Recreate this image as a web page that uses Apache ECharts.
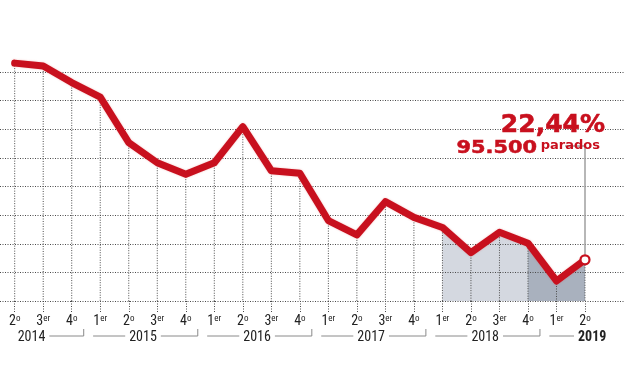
<!DOCTYPE html>
<html><head><meta charset="utf-8">
<script src="https://cdn.jsdelivr.net/npm/echarts@6/dist/echarts.min.js"></script>
<style>html,body{margin:0;padding:0;background:#fff}#c{width:624px;height:385px}</style>
</head><body><div id="c"></div>
<script>
// ---- data ----
const quarters = ['2º','3er','4º','1er','2º','3er','4º','1er','2º','3er','4º','1er','2º','3er','4º','1er','2º','3er','4º','1er','2º'];
const quarterYears = ['2014','2014','2014','2015','2015','2015','2015','2016','2016','2016','2016','2017','2017','2017','2017','2018','2018','2018','2018','2019','2019'];
const paroRate = [29.31, 29.21, 28.63, 28.12, 26.53, 25.83, 25.43, 25.83, 27.09, 25.55, 25.46, 23.81, 23.31, 24.47, 23.92, 23.57, 22.69, 23.40, 23.02, 21.70, 22.44];
const yMin = 21, yMax = 29, yStep = 1;
const lightShade = [15, 18];   // 1er 2018 .. 4º 2018
const darkShade = [18, 20];    // 4º 2018 .. 2º 2019
const headlineRate = '22,44%';
const headlineParados = '95.500';
const headlineWord = 'parados';

// ---- styles ----
const RED = '#c8101e';
const DOT = '#4a4a4a';
const DASH = [1, 1.5];
const LABEL_FONT = '"Liberation Sans Narrow","Roboto Condensed","Liberation Sans",sans-serif';

const yearGroups = [];
quarterYears.forEach((y, i) => {
  const g = yearGroups[yearGroups.length - 1];
  if (g && g.year === y) g.end = i; else yearGroups.push({year: y, start: i, end: i});
});

function shade(range) {
  return paroRate.map((v, i) => (i >= range[0] && i <= range[1]) ? v : null);
}

const chart = echarts.init(document.getElementById('c'), null, {renderer: 'canvas'});

const option = {
  animation: false,
  backgroundColor: '#fff',
  grid: [
    {left: 14.7, right: 39, top: 72, bottom: 84},
    {left: 0, right: 0, top: 72, bottom: 84}
  ],
  xAxis: [
    {
      type: 'category', gridIndex: 0, data: quarters, boundaryGap: false,
      axisLine: {show: false},
      axisTick: {show: true, length: 11, interval: 0, lineStyle: {color: DOT, type: DASH, width: 1}},
      axisLabel: {
        interval: 0, margin: 13, color: '#222',
        formatter: v => '{n|' + v[0] + '}{s|' + v.slice(1).replace('º', 'o') + '}',
        rich: {
          n: {fontSize: 14, fontFamily: LABEL_FONT, color: '#222', lineHeight: 14},
          s: {fontSize: 9, fontFamily: LABEL_FONT, color: '#222', lineHeight: 9, verticalAlign: 'top'}
        }
      },
      splitLine: {show: false}
    },
    {type: 'value', gridIndex: 1, min: 0, max: 1, show: false}
  ],
  yAxis: [
    {type: 'value', gridIndex: 0, min: yMin, max: yMax, interval: yStep, show: false},
    {
      type: 'value', gridIndex: 1, min: yMin, max: yMax, interval: yStep, z: 1,
      axisLine: {show: false}, axisTick: {show: false}, axisLabel: {show: false},
      splitLine: {show: true, lineStyle: {color: DOT, type: DASH, width: 1}}
    }
  ],
  series: [
    {
      type: 'line', xAxisIndex: 0, yAxisIndex: 0, data: shade(lightShade), z: 0,
      symbol: 'none', lineStyle: {width: 0}, areaStyle: {color: '#d4d8e0', opacity: 1, origin: 'start'}, connectNulls: false
    },
    {
      type: 'line', xAxisIndex: 0, yAxisIndex: 0, data: shade(darkShade), z: 0,
      symbol: 'none', lineStyle: {width: 0}, areaStyle: {color: '#a9b1be', opacity: 1, origin: 'start'}, connectNulls: false
    },
    {
      type: 'custom', xAxisIndex: 0, yAxisIndex: 0, z: 2, clip: false,
      data: paroRate.map((v, i) => [i, v]),
      renderItem: (params, api) => {
        const p = api.coord([api.value(0), api.value(1)]);
        const b = api.coord([api.value(0), yMin]);
        return {type: 'line', shape: {x1: p[0], y1: p[1], x2: b[0], y2: b[1]},
          style: {stroke: DOT, lineWidth: 1, lineDash: DASH}};
      }
    },
    {
      type: 'line', xAxisIndex: 0, yAxisIndex: 0, z: 3, clip: false,
      data: paroRate.map((v, i) => i === paroRate.length - 1
        ? {value: v, symbol: 'circle', symbolSize: 9, itemStyle: {color: '#fff', borderColor: RED, borderWidth: 2.2}}
        : v),
      symbol: 'none', showSymbol: true,
      lineStyle: {color: RED, width: 7, join: 'round', cap: 'round', shadowColor: 'rgba(220,60,60,0.35)', shadowBlur: 2},
      itemStyle: {color: RED}
    },
    {
      type: 'custom', xAxisIndex: 0, yAxisIndex: 0, z: 4, clip: false,
      data: yearGroups.map(g => [g.start, g.end]),
      renderItem: (params, api) => {
        const g = yearGroups[params.dataIndex];
        const s = api.coord([g.start, yMin]);
        const e = api.coord([g.end, yMin]);
        const step = api.coord([1, yMin])[0] - api.coord([0, yMin])[0];
        const y = s[1] + 35;
        const isFirst = params.dataIndex === 0;
        const isLast = params.dataIndex === yearGroups.length - 1;
        const lineStart = isFirst ? s[0] : s[0] - 0.25 * step;
        const lineEnd = isLast ? e[0] : e[0] + 0.42 * step;
        const children = [
          {type: 'line', shape: {x1: lineStart, y1: y, x2: lineEnd, y2: y}, style: {stroke: '#8a8a8a', lineWidth: 1}}
        ];
        if (!isLast) children.push({type: 'line', shape: {x1: lineEnd, y1: y - 7, x2: lineEnd, y2: y}, style: {stroke: '#8a8a8a', lineWidth: 1}});
        let tx, align;
        if (isFirst) { tx = s[0] - 1; align = 'left'; }
        else if (isLast) { tx = e[0] - 11; align = 'left'; }
        else { tx = (s[0] + e[0]) / 2; align = 'center'; }
        children.push({
          type: 'text', x: tx, y: y + 1,
          style: {
            text: g.year, align: align, verticalAlign: 'middle',
            font: (isLast ? 'bold ' : '') + '14px ' + LABEL_FONT, fill: '#222',
            backgroundColor: '#fff', padding: [0, 4, 0, 4]
          }
        });
        return {type: 'group', children: children};
      }
    }
  ]
};
chart.setOption(option);

const lastIdx = paroRate.length - 1;
const pt = chart.convertToPixel({xAxisIndex: 0, yAxisIndex: 0}, [lastIdx, paroRate[lastIdx]]);
chart.setOption({
  graphic: [
    {type: 'polyline', z: 2, shape: {points: [[565, 146], [pt[0], 146], [pt[0], pt[1] - 5]]},
      style: {stroke: '#a0a0a0', lineWidth: 1.5, fill: null}},
    {type: 'text', z: 10, x: 605, y: 113,
      style: {text: headlineRate, align: 'right', verticalAlign: 'alphabetic', font: 'bold 25px "DejaVu Sans"', fill: RED, stroke: RED, lineWidth: 0.6}},
    {type: 'text', z: 10, x: 537, y: 139, scaleX: 1.16,
      style: {text: headlineParados, align: 'right', verticalAlign: 'alphabetic', font: 'bold 18px "DejaVu Sans"', fill: RED, stroke: RED, lineWidth: 0.5}},
    {type: 'text', z: 10, x: 600, y: 139,
      style: {text: headlineWord, align: 'right', verticalAlign: 'alphabetic', font: 'bold 13px "DejaVu Sans"', fill: RED}}
  ]
});
</script></body></html>
